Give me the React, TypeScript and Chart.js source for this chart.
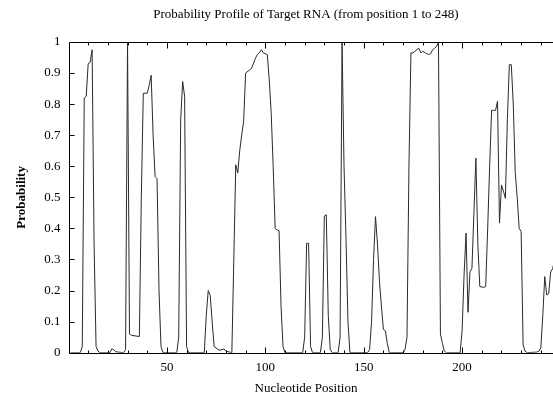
import React, { useEffect, useRef } from "react";
import { Chart, registerables } from "chart.js";

Chart.register(...registerables);

const TITLE = "Probability Profile of Target RNA (from position 1 to 248)";
const X_LABEL = "Nucleotide Position";
const Y_LABEL = "Probability";

const positions = [
  1, 2, 5, 6, 7, 8, 9, 10, 11, 12, 13, 14, 15, 16, 21, 22, 23, 24, 28, 29, 30, 31, 32, 36, 37, 38, 40, 41, 42, 43,
  44, 45, 46, 47, 48, 55, 56, 57, 58, 59, 60, 61, 69, 70, 71, 72, 73, 74, 76, 77, 79, 80, 83, 84, 85, 86, 87, 88,
  89, 90, 92, 93, 95, 96, 97, 98, 99, 100, 101, 102, 103, 104, 105, 106, 107, 108, 109, 110, 119, 120, 121, 122,
  123, 124, 128, 129, 130, 131, 132, 133, 134, 137, 138, 139, 140, 141, 142, 143, 152, 153, 154, 155, 156, 157,
  158, 159, 160, 161, 162, 163, 170, 171, 172, 173, 174, 175, 176, 177, 178, 179, 180, 181, 182, 183, 184, 185,
  186, 187, 188, 189, 190, 191, 192, 199, 200, 201, 202, 203, 204, 205, 206, 207, 208, 209, 211, 212, 213, 214,
  215, 216, 217, 218, 219, 220, 221, 222, 223, 224, 225, 226, 227, 228, 229, 230, 231, 232, 233, 238, 239, 240,
  241, 242, 243, 244, 245, 246, 247, 248,
];

const probabilities = [
  0.0, 0.0, 0.0, 0.0, 0.02, 0.82, 0.825, 0.93, 0.935, 0.975, 0.35, 0.02, 0.005, 0.0, 0.0, 0.012, 0.01, 0.003, 0.0,
  0.01, 1.0, 0.06, 0.056, 0.052, 0.5, 0.835, 0.835, 0.86, 0.893, 0.7, 0.567, 0.56, 0.2, 0.02, 0.0, 0.0, 0.05,
  0.75, 0.873, 0.825, 0.02, 0.0, 0.0, 0.12, 0.2, 0.185, 0.1, 0.02, 0.01, 0.008, 0.012, 0.005, 0.0, 0.3, 0.605,
  0.578, 0.65, 0.7, 0.745, 0.9, 0.91, 0.915, 0.948, 0.96, 0.965, 0.975, 0.965, 0.962, 0.96, 0.88, 0.77, 0.6, 0.4,
  0.395, 0.393, 0.15, 0.02, 0.0, 0.0, 0.05, 0.352, 0.352, 0.02, 0.0, 0.0, 0.05, 0.44, 0.444, 0.12, 0.01, 0.0, 0.0,
  0.05, 1.0, 0.6, 0.37, 0.1, 0.0, 0.0, 0.01, 0.1, 0.3, 0.438, 0.35, 0.23, 0.15, 0.075, 0.07, 0.03, 0.0, 0.0, 0.01,
  0.05, 0.6, 0.965, 0.965, 0.97, 0.975, 0.98, 0.965, 0.97, 0.966, 0.963, 0.96, 0.962, 0.975, 0.98, 0.985, 1.0,
  0.06, 0.03, 0.005, 0.0, 0.0, 0.07, 0.25, 0.385, 0.13, 0.26, 0.272, 0.45, 0.626, 0.35, 0.213, 0.21, 0.213, 0.4,
  0.6, 0.78, 0.78, 0.78, 0.809, 0.417, 0.54, 0.52, 0.497, 0.75, 0.927, 0.927, 0.8, 0.58, 0.5, 0.4, 0.39, 0.025,
  0.005, 0.0, 0.002, 0.005, 0.015, 0.12, 0.245, 0.186, 0.19, 0.26, 0.27, 0.3, 0.3,
];

const X_MIN = 0;
const X_MAX = 250;
const X_TICK_STEP = 50;
const X_MINOR_STEP = 10;
const Y_MIN = 0;
const Y_MAX = 1;
const Y_TICK_STEP = 0.1;

const SERIF = "'Liberation Serif', 'Times New Roman', serif";

const framePlugin = {
  id: "gnuplotFrame",
  afterDatasetsDraw(chart: any) {
    const { ctx, chartArea, scales } = chart;
    const { left, right, top, bottom } = chartArea;
    const xs = scales.x;
    const ys = scales.y;
    ctx.save();
    ctx.strokeStyle = "#000";
    ctx.lineWidth = 1;
    const L = Math.round(left) + 0.5;
    const T = Math.round(top) + 0.5;
    const B = Math.round(bottom) + 0.5;
    ctx.beginPath();
    ctx.moveTo(L, T);
    ctx.lineTo(L, B);
    ctx.lineTo(right, B);
    ctx.moveTo(L, T);
    ctx.lineTo(right, T);
    for (let v = X_MINOR_STEP; v < X_MAX; v += X_MINOR_STEP) {
      const px = Math.round(xs.getPixelForValue(v)) + 0.5;
      const len = v % X_TICK_STEP === 0 ? 6 : 3;
      ctx.moveTo(px, B);
      ctx.lineTo(px, B - len);
      ctx.moveTo(px, T);
      ctx.lineTo(px, T + len);
    }
    for (let i = 0; i <= 10; i++) {
      const v = Y_MIN + i * Y_TICK_STEP;
      const py = Math.round(ys.getPixelForValue(v)) + 0.5;
      ctx.moveTo(L, py);
      ctx.lineTo(L + 5, py);
    }
    ctx.stroke();
    ctx.restore();
  },
};

export default function App() {
  const ref = useRef<HTMLCanvasElement | null>(null);
  useEffect(() => {
    if (!ref.current) return;
    const data = positions.map((p, i) => ({ x: p, y: probabilities[i] }));
    const chart = new Chart(ref.current, {
      type: "line",
      data: {
        datasets: [
          {
            data,
            borderColor: "#2a2a2a",
            borderWidth: 1,
            pointRadius: 0,
            tension: 0,
            fill: false,
          },
        ],
      },
      options: {
        animation: false,
        responsive: false,
        maintainAspectRatio: false,
        layout: { padding: 0 },
        plugins: {
          legend: { display: false },
          tooltip: { enabled: false },
          title: {
            display: true,
            text: TITLE,
            color: "#000",
            font: { family: SERIF, size: 13, weight: "normal", lineHeight: 1.2 },
            padding: { top: 7.2, bottom: 19.2 },
          },
          subtitle: {
            display: true,
            position: "bottom",
            text: X_LABEL,
            color: "#000",
            font: { family: SERIF, size: 13, weight: "normal", lineHeight: 1.2 },
            padding: { top: 0, bottom: 2.2 },
          },
        },
        scales: {
          x: {
            type: "linear",
            min: X_MIN,
            max: X_MAX,
            afterFit: (s: any) => {
              s.height = 28.5;
            },
            grid: { display: false, drawTicks: false },
            border: { display: false },
            ticks: {
              stepSize: X_TICK_STEP,
              color: "#000",
              padding: 7.5,
              maxRotation: 0,
              font: { family: SERIF, size: 13 },
              callback: (v: any) => (v === 0 || v === X_MAX ? "" : String(v)),
            },
          },
          y: {
            min: Y_MIN,
            max: Y_MAX,
            afterFit: (s: any) => {
              s.width = 68.5;
            },
            grid: { display: false, drawTicks: false },
            border: { display: false },
            ticks: {
              stepSize: Y_TICK_STEP,
              color: "#000",
              padding: 8,
              font: { family: SERIF, size: 13 },
              callback: (v: any) => String(Number(Number(v).toFixed(1))),
            },
            title: {
              display: true,
              text: Y_LABEL,
              color: "#000",
              font: { family: SERIF, size: 13, weight: "bold", lineHeight: 1.2 },
              padding: { top: 14.2, bottom: 0 },
            },
          },
          yRight: {
            position: "right",
            min: Y_MIN,
            max: Y_MAX,
            afterFit: (s: any) => {
              s.width = 51.5;
            },
            grid: { display: false, drawTicks: false },
            border: { display: false },
            ticks: { display: false },
          },
        },
      },
      plugins: [framePlugin],
    });
    return () => chart.destroy();
  }, []);
  return (
    <div style={{ position: "fixed", left: 0, top: 0, width: 612, height: 399, background: "#fff" }}>
      <canvas ref={ref} width={612} height={399} style={{ display: "block", width: 612, height: 399 }} />
    </div>
  );
}
